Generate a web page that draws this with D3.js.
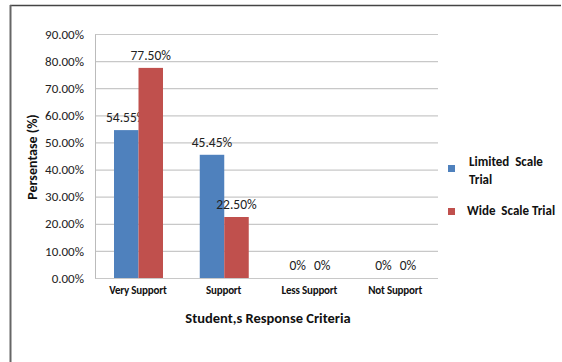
<html>
<script src='https://d3js.org/d3.v7.min.js'></script>
<style>
  body {margin: 0; background: #fff;}
  text {font-family: Calibri, Carlito, 'Liberation Sans', Arial, sans-serif;}
</style>
<body>
<svg width=562 height=362></svg>
<script>
var categories = ['Very Support', 'Support', 'Less Support', 'Not Support'];
var seriesNames = ['Limited  Scale Trial', 'Wide  Scale Trial'];
var limitedValues = [54.55, 45.45, 0, 0];
var wideValues = [77.50, 22.50, 0, 0];
var valueLabels = [['54.55%', '45.45%', '0%', '0%'], ['77.50%', '22.50%', '0%', '0%']];
var yTicks = [0, 10, 20, 30, 40, 50, 60, 70, 80, 90];
var colors = ['#4f81bd', '#c0504d'];

var svg = d3.select('svg');

// outer frame (only top and left visible)
svg.append('line').attr('x1', 10).attr('x2', 561).attr('y1', 5.5).attr('y2', 5.5)
  .attr('stroke', '#444').attr('stroke-width', 1.5);
svg.append('line').attr('x1', 10.5).attr('x2', 10.5).attr('y1', 5).attr('y2', 362)
  .attr('stroke', '#666').attr('stroke-width', 2);

var x0 = d3.scaleBand().domain(categories).range([95, 438]);
var x1 = d3.scaleBand().domain([0, 1]).range([0, 49]);
var y = d3.scaleLinear().domain([0, 90]).range([278, 34]);

// gridlines
svg.append('g').selectAll('line').data(yTicks).enter().append('line')
  .attr('x1', 95).attr('x2', 438)
  .attr('y1', function(d){ return y(d) + 0.5; })
  .attr('y2', function(d){ return y(d) + 0.5; })
  .attr('stroke', '#c8c8c8').attr('stroke-width', 1.2);

// y axis
var yAxis = d3.axisLeft(y).tickValues(yTicks).tickSize(0).tickPadding(11)
  .tickFormat(function(d){ return d.toFixed(2) + '%'; });
var yg = svg.append('g').attr('transform', 'translate(95,0)').call(yAxis);
yg.select('.domain').attr('stroke', '#bbb');
yg.selectAll('text').attr('font-size', '13px').attr('fill', '#222')
  .style('font-family', "Calibri, Carlito, 'Liberation Sans', Arial, sans-serif");

// bars
var data = [limitedValues, wideValues];
data.forEach(function(vals, s){
  var g = svg.append('g');
  g.selectAll('rect').data(vals).enter().append('rect')
    .attr('x', function(d, i){ return x0(categories[i]) + 19 + x1(s); })
    .attr('y', function(d){ return y(d); })
    .attr('width', x1.bandwidth())
    .attr('height', function(d){ return y(0) - y(d); })
    .attr('fill', colors[s]);
  g.selectAll('text').data(vals).enter().append('text')
    .attr('x', function(d, i){ return x0(categories[i]) + 19 + x1(s) + x1.bandwidth() / 2; })
    .attr('y', function(d){ return y(d) - 8; })
    .attr('text-anchor', 'middle')
    .attr('font-size', '13.5px').attr('fill', '#222')
    .text(function(d, i){ return valueLabels[s][i]; });
});

// category labels
svg.append('g').selectAll('text').data(categories).enter().append('text')
  .attr('x', function(d){ return x0(d) + x0.bandwidth() / 2; })
  .attr('y', 294)
  .attr('text-anchor', 'middle')
  .attr('font-size', '11px').attr('font-weight', 'bold').attr('fill', '#111')
  .attr('letter-spacing', '-0.2')
  .text(function(d){ return d; });

// axis titles
svg.append('text').attr('x', 268).attr('y', 323).attr('text-anchor', 'middle')
  .attr('font-size', '14.5px').attr('font-weight', 'bold').attr('fill', '#111')
  .text("Student,s Response Criteria");
svg.append('text').attr('transform', 'translate(37,157) rotate(-90)')
  .attr('text-anchor', 'middle')
  .attr('font-size', '14px').attr('font-weight', 'bold').attr('fill', '#111')
  .text('Persentase (%)');

// legend
var legendY = [165, 208];
var lg = svg.append('g');
lg.selectAll('rect').data(seriesNames).enter().append('rect')
  .attr('x', 448).attr('y', function(d, i){ return legendY[i]; })
  .attr('width', 7).attr('height', 7)
  .attr('fill', function(d, i){ return colors[i]; });
lg.append('text').attr('x', 469).attr('y', 166).attr('font-size', '13px')
  .attr('font-weight', 'bold').attr('fill', '#111').attr('xml:space', 'preserve')
  .text('Limited  Scale');
lg.append('text').attr('x', 469).attr('y', 184).attr('font-size', '13px')
  .attr('font-weight', 'bold').attr('fill', '#111')
  .text('Trial');
lg.append('text').attr('x', 467).attr('y', 215).attr('font-size', '13px')
  .attr('font-weight', 'bold').attr('fill', '#111').attr('xml:space', 'preserve')
  .text(seriesNames[1]);
</script>
</body>
</html>
